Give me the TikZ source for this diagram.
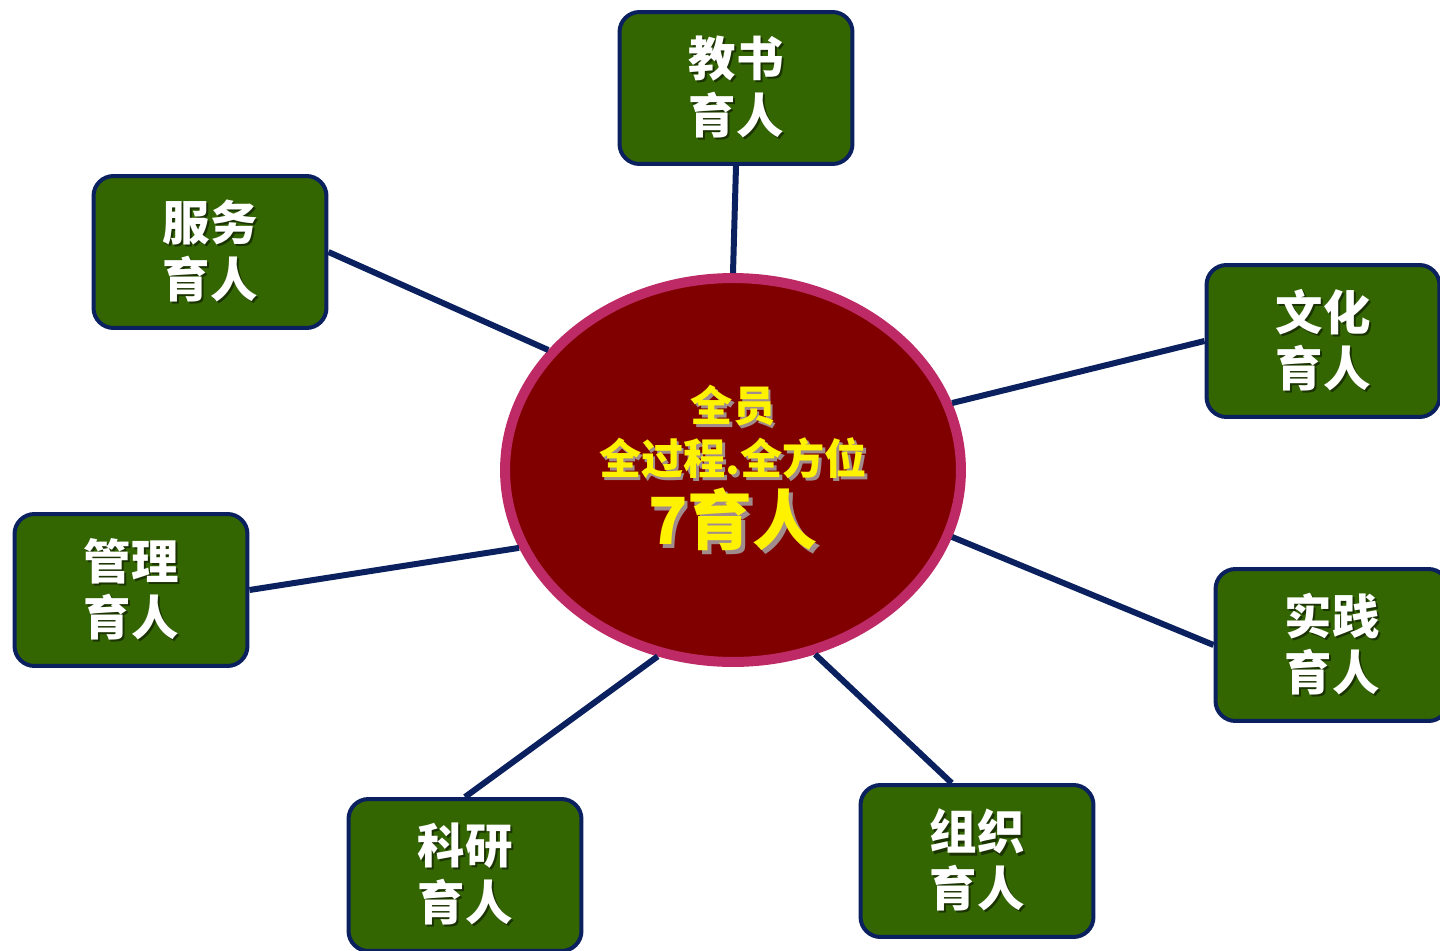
\documentclass[tikz,border=0pt]{standalone}
\usepackage{fontspec}
\usetikzlibrary{shapes.geometric}
\newfontfamily\cjk{Noto Sans CJK SC}
\definecolor{boxgreen}{HTML}{336600}
\definecolor{navy}{HTML}{0B215F}
\definecolor{hubred}{HTML}{800000}
\definecolor{hubrim}{HTML}{BE2A65}
\definecolor{hubshadow}{HTML}{A08C8C}
\definecolor{boxshadow}{HTML}{1A3300}
\newcommand{\shtxt}[3]{\leavevmode\rlap{\kern#1\raisebox{-#1}{\textcolor{#2}{#3}}}#3}

\begin{document}
\begin{tikzpicture}[x=0.02cm,y=-0.02cm]
	\tikzstyle{unit}=[draw=navy,fill=boxgreen,line width=0.08cm,rounded corners=0.4cm,minimum width=4.66cm,minimum height=3.04cm,align=center,text=white,font=\cjk\bfseries\fontsize{27}{32}\selectfont]
	\tikzstyle{hub}=[ellipse,draw=hubrim,fill=hubred,line width=0.2cm,minimum width=9.12cm,minimum height=7.68cm,inner sep=0pt,align=center,text=yellow,font=\cjk\bfseries\fontsize{24}{30}\selectfont]
	\tikzstyle{link}=[draw=navy,line width=0.12cm]
	\useasboundingbox (0,0) rectangle (1440,950);
	\node (hub) [hub] at (733,470) {\shtxt{1.5pt}{hubshadow}{全员}\\\shtxt{1.5pt}{hubshadow}{全过程.全方位}\\[3pt]{\fontsize{37}{40}\selectfont\shtxt{2pt}{hubshadow}{7育人}}};
	\node (jiaoshu) [unit] at (736,88) {\shtxt{1.2pt}{boxshadow}{教书}\\\shtxt{1.2pt}{boxshadow}{育人}};
	\node (fuwu) [unit] at (210,252) {\shtxt{1.2pt}{boxshadow}{服务}\\\shtxt{1.2pt}{boxshadow}{育人}};
	\node (wenhua) [unit] at (1323,341) {\shtxt{1.2pt}{boxshadow}{文化}\\\shtxt{1.2pt}{boxshadow}{育人}};
	\node (guanli) [unit] at (131,590) {\shtxt{1.2pt}{boxshadow}{管理}\\\shtxt{1.2pt}{boxshadow}{育人}};
	\node (shijian) [unit] at (1332,645) {\shtxt{1.2pt}{boxshadow}{实践}\\\shtxt{1.2pt}{boxshadow}{育人}};
	\node (keyan) [unit] at (465,875) {\shtxt{1.2pt}{boxshadow}{科研}\\\shtxt{1.2pt}{boxshadow}{育人}};
	\node (zuzhi) [unit] at (977,861) {\shtxt{1.2pt}{boxshadow}{组织}\\\shtxt{1.2pt}{boxshadow}{育人}};
	% connectors
	\draw[link] (jiaoshu.south) -- (hub.90);
	\draw[link] (fuwu.east) -- (hub.147);
	\draw[link] (wenhua.west) -- (hub.17);
	\draw[link] (guanli.east) -- (hub.200);
	\draw[link] (shijian.west) -- (hub.343);
	\draw[link] (keyan.north) -- (hub.248);
	\draw[link] (zuzhi.108) -- (hub.294);
\end{tikzpicture}
\end{document}
